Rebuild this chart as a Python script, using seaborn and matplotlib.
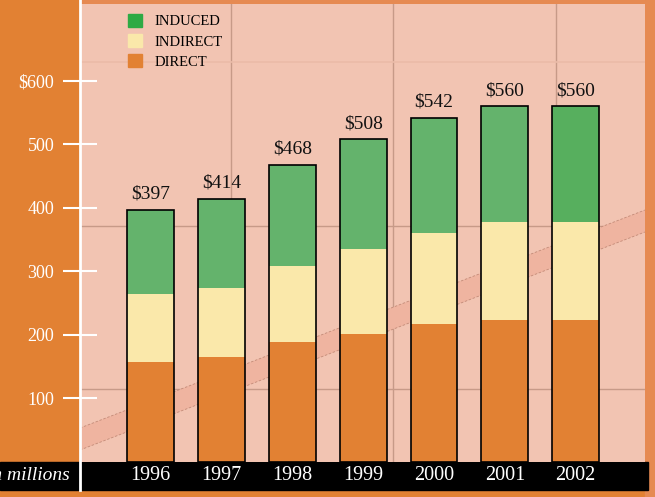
import matplotlib.pyplot as plt
import matplotlib.patches as mpatches
from matplotlib.lines import Line2D
import seaborn as sns
import pandas as pd

# values in $ millions
years = ["1996", "1997", "1998", "1999", "2000", "2001", "2002"]
direct = [157, 165, 188, 202, 217, 223, 223]
indirect = [108, 108, 121, 133, 143, 154, 154]
induced = [132, 141, 159, 173, 182, 183, 183]
totals = [397, 414, 468, 508, 542, 560, 560]
ytick_vals = [100, 200, 300, 400, 500, 600]
ytick_labels = ["100", "200", "300", "400", "500", "$600"]

ORANGE = "#E28133"
EDGE_ORANGE = "#E68A52"
PINK = "#F2C4B2"
GREEN = "#64B36C"
GREEN_LAST = "#57AF5E"
LEGEND_GREEN = "#2EAA44"
YELLOW = "#FAE8AA"

plt.rcParams["font.family"] = ["Liberation Serif", "DejaVu Serif"]

df = pd.DataFrame({"year": years, "direct": direct, "indirect": indirect, "induced": induced})
df["mid"] = df["direct"] + df["indirect"]
df["top"] = df["mid"] + df["induced"]

W, H = 655, 497
fig = plt.figure(figsize=(W / 100, H / 100), dpi=100, facecolor=ORANGE)
ax = fig.add_axes([80 / W, (H - 461.8) / H, 565 / W, 457.8 / H])
ax.set_facecolor(PINK)

# background decoration: faint grid and a diagonal band
for x in [1.13, 3.42, 5.72]:
    ax.axvline(x, color="#C79A88", lw=1, zorder=1)
ax.axhline(114.6, color="#C79A88", lw=1, zorder=1)
ax.axhline(371, color="#C79A88", lw=1, zorder=1)
ax.axhline(629.6, color="#EBBBA8", lw=1.2, zorder=1)

band = mpatches.Polygon([(0, 0.0258), (1, 0.502), (1, 0.550), (0, 0.0738)],
                        closed=True, transform=ax.transAxes, facecolor="#EFB4A0",
                        edgecolor="none", zorder=1.5)
ax.add_patch(band)
for y0, y1 in [(0.0258, 0.502), (0.0738, 0.550)]:
    ax.plot([0, 1], [y0, y1], transform=ax.transAxes, color="#C38B78",
            lw=0.6, ls=(0, (3, 2)), zorder=1.6)

# stacked bars: total, then direct+indirect, then direct on top of each other
green_pal = [GREEN] * 6 + [GREEN_LAST]
sns.barplot(data=df, x="year", y="top", hue="year", palette=green_pal, legend=False,
            saturation=1, width=0.66, edgecolor="none", ax=ax, zorder=3)
sns.barplot(data=df, x="year", y="mid", color=YELLOW, saturation=1, width=0.66,
            edgecolor="none", ax=ax, zorder=3)
sns.barplot(data=df, x="year", y="direct", color=ORANGE, saturation=1, width=0.66,
            edgecolor="none", ax=ax, zorder=3)
sns.barplot(data=df, x="year", y="top", color="black", fill=False, width=0.66,
            linewidth=1.2, ax=ax, zorder=4)
ax.bar_label(ax.containers[-1], labels=[f"${v}" for v in totals], padding=5,
             fontsize=14, color="#111111")

ax.set_xlim(-1, 6.98)
ax.set_ylim(0, 721)
ax.set_xlabel("")
ax.set_ylabel("")
for s in ax.spines.values():
    s.set_visible(False)

ax.set_yticks(ytick_vals)
ax.set_yticklabels(ytick_labels)
ax.tick_params(axis="y", colors="white", direction="inout", length=24, width=1.5,
               pad=6.5, labelsize=13)
ax.tick_params(axis="x", length=0, pad=3, labelcolor="white", labelsize=14.5)

handles = [mpatches.Patch(color=LEGEND_GREEN, label="INDUCED"),
           mpatches.Patch(color=YELLOW, label="INDIRECT"),
           mpatches.Patch(color=ORANGE, label="DIRECT")]
ax.legend(handles=handles, loc="upper left", bbox_to_anchor=(0.085, 0.978), frameon=False,
          fontsize=10.5, handlelength=0.95, handleheight=0.95, handletextpad=0.85,
          labelspacing=0.4, borderpad=0, borderaxespad=0)

# frame pieces around the plot
fig.add_artist(mpatches.Rectangle((0, (H - 490) / H), 648 / W, 28.2 / H,
                                  transform=fig.transFigure, color="black", zorder=-1))
fig.add_artist(mpatches.Rectangle((645 / W, 0), 10 / W, 1, transform=fig.transFigure,
                                  color=EDGE_ORANGE, zorder=-2))
fig.add_artist(mpatches.Rectangle((80 / W, (H - 4) / H), 565 / W, 4 / H,
                                  transform=fig.transFigure, color=EDGE_ORANGE, zorder=-2))
fig.add_artist(Line2D([79.5 / W, 79.5 / W], [(H - 490) / H, 1], color="white", lw=2,
                      transform=fig.transFigure, zorder=3))
fig.text(70 / W, (H - 475) / H, "in millions", ha="right", va="center", color="white",
         style="italic", fontsize=14)

fig.savefig("out.png", dpi=100, facecolor=fig.get_facecolor())
